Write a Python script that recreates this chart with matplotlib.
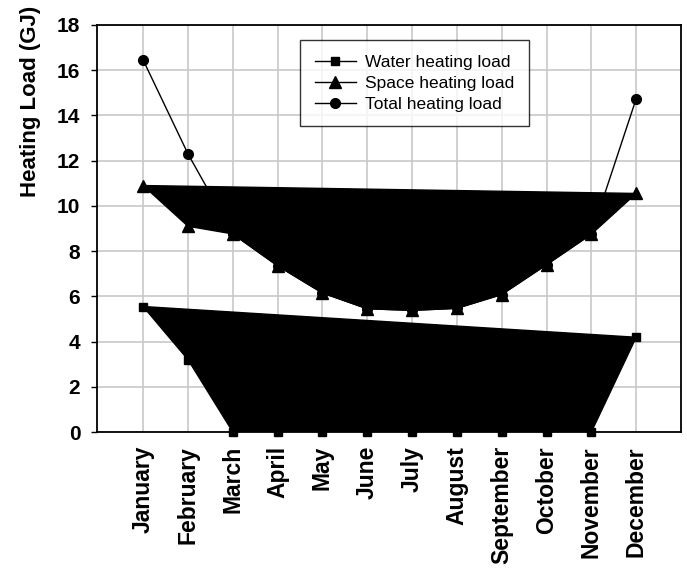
import numpy as np
import matplotlib.pyplot as plt

plt.rcParams['font.family'] = ['Liberation Sans', 'DejaVu Sans']

months = ['January', 'February', 'March', 'April', 'May', 'June', 'July',
          'August', 'September', 'October', 'November', 'December']
water_load = [5.55, 3.2, 0, 0, 0, 0, 0, 0, 0, 0, 0, 4.19]
space_load = [10.9, 9.1, 8.76, 7.35, 6.15, 5.45, 5.38, 5.47, 6.08, 7.4, 8.75, 10.55]
total_load = [16.45, 12.3, 8.76, 7.35, 6.15, 5.45, 5.38, 5.47, 6.08, 7.4, 8.75, 14.74]

x = np.arange(len(months))

fig = plt.figure(figsize=(6.87, 5.78), dpi=100)
ax = fig.add_axes([97 / 687, 1 - 432 / 578, 584 / 687, 407 / 578])

# total load as a plain line, space/water as closed filled series
ax.plot(x, total_load, color='black', lw=1, marker='o', ms=7, zorder=3,
        clip_on=False, label='Total heating load')
ax.fill(x, space_load, color='black', lw=1, zorder=4)
ax.plot(x, space_load, color='black', lw=0, marker='^', ms=8, zorder=5,
        clip_on=False)
ax.fill(x, water_load, color='black', lw=1, zorder=4)
ax.plot(x, water_load, color='black', lw=0, marker='s', ms=6, zorder=5,
        clip_on=False)

ax.set_xlim(-1.03, 12.0)
ax.set_ylim(0, 18)
ax.set_yticks(range(0, 19, 2))
ax.set_xticks(x)
ax.set_xticklabels(months, rotation=90, fontsize=16.5, fontweight='bold')
ax.tick_params(axis='y', labelsize=15, length=4, width=1, pad=8)
for lbl in ax.get_yticklabels():
    lbl.set_fontweight('bold')
ax.tick_params(axis='x', length=0, pad=10)
ax.set_ylabel('Heating Load (GJ)', fontsize=16, fontweight='bold')
ax.yaxis.set_label_coords(-56 / 584, 0.813)

ax.grid(True, color='#c8c8c8', lw=1.2, zorder=0)
ax.set_axisbelow(True)
for sp in ax.spines.values():
    sp.set_linewidth(1.3)
    sp.set_zorder(6)

# legend handles: line with marker
h_w, = ax.plot([], [], color='black', lw=1, marker='s', ms=6, label='Water heating load')
h_s, = ax.plot([], [], color='black', lw=1, marker='^', ms=8, label='Space heating load')
h_t, = ax.plot([], [], color='black', lw=1, marker='o', ms=7, label='Total heating load')
leg = ax.legend(handles=[h_w, h_s, h_t], loc='upper left',
                bbox_to_anchor=(203 / 584, (432 - 40) / 407), fontsize=12.5,
                frameon=True, fancybox=False, edgecolor='black',
                handlelength=2.36, labelspacing=0.33, borderpad=0.85,
                handletextpad=0.52, borderaxespad=0)
leg.get_frame().set_linewidth(1)
leg.set_zorder(7)

fig.savefig('out.png', dpi=100)
